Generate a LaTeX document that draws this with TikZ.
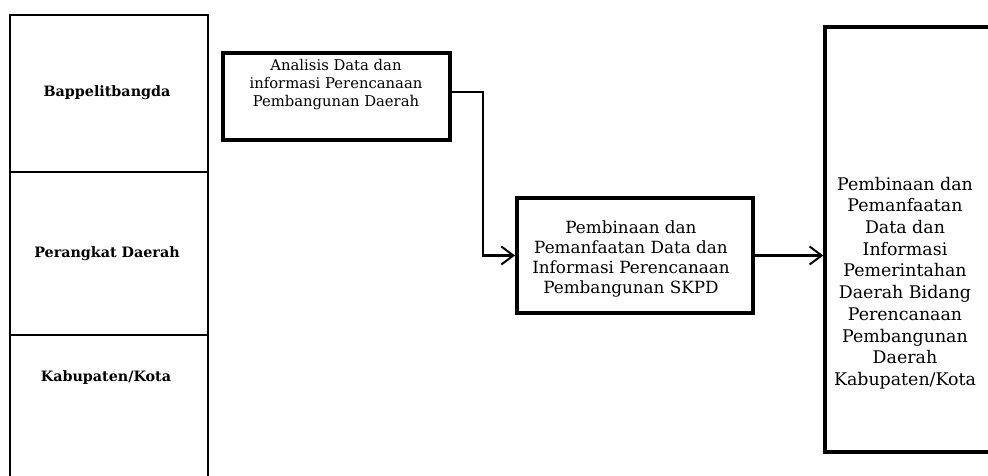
\documentclass[tikz,border=0pt]{standalone}
\usepackage{fontspec}
\setmainfont{DejaVu Serif}
\usetikzlibrary{arrows.meta}
\begin{document}
\begin{tikzpicture}[x=1pt,y=-1pt,
  lane/.style={draw,line width=1.3pt,rectangle,inner sep=0pt,minimum width=198pt},
  lanelabel/.style={font=\bfseries\fontsize{14.3}{16}\selectfont,inner sep=0pt},
  flowbox/.style={draw,line width=4pt,rectangle,inner sep=0pt},
  boxtext/.style={align=center,inner sep=0pt},
  flow/.style={line width=2.2pt,-{Straight Barb[length=12pt,width=18pt,line width=2pt]}}]
\useasboundingbox (0,0) rectangle (988,476);
\fill[white] (0,0) rectangle (988,476);
% swimlanes
\node[lane,minimum height=157pt] (bap) at (109,93.5) {};
\node[lane,minimum height=163pt] (pd) at (109,253.5) {};
\node[lane,minimum height=150pt] (kab) at (109,410) {};
\node[lanelabel] (baplabel) at (107,93) {Bappelitbangda};
\node[lanelabel] (pdlabel) at (107,254) {Perangkat Daerah};
\node[lanelabel] (kablabel) at (106,378) {Kabupaten/Kota};
% process boxes
\node[flowbox,minimum width=227pt,minimum height=87pt] (ana) at (336.5,96.5) {};
\node[boxtext,font=\fontsize{14.8}{18}\selectfont] (anatext) at (336,85)
  {Analisis Data dan\\informasi Perencanaan\\Pembangunan Daerah};
\node[flowbox,minimum width=236pt,minimum height=115pt] (skpd) at (635,255.5) {};
\node[boxtext,font=\fontsize{16.8}{20}\selectfont] (skpdtext) at (631,259)
  {Pembinaan dan\\Pemanfaatan Data dan\\Informasi Perencanaan\\Pembangunan SKPD};
\node[flowbox,line width=3.5pt,minimum width=200pt,minimum height=425pt] (kota) at (925,239.5) {};
\node[boxtext,font=\fontsize{17.4}{21.7}\selectfont] (kotatext) at (905,283)
  {Pembinaan dan\\Pemanfaatan\\Data dan\\Informasi\\Pemerintahan\\Daerah Bidang\\Perencanaan\\Pembangunan\\Daerah\\Kabupaten/Kota};
% connectors
\coordinate (bend) at (483,0);
\draw[flow] (ana.east |- 0,92) -| (bend |- skpd.west) -- (skpd.west);
\draw[flow] (skpd.east) -- (kota.west |- skpd.east);
\end{tikzpicture}
\end{document}
